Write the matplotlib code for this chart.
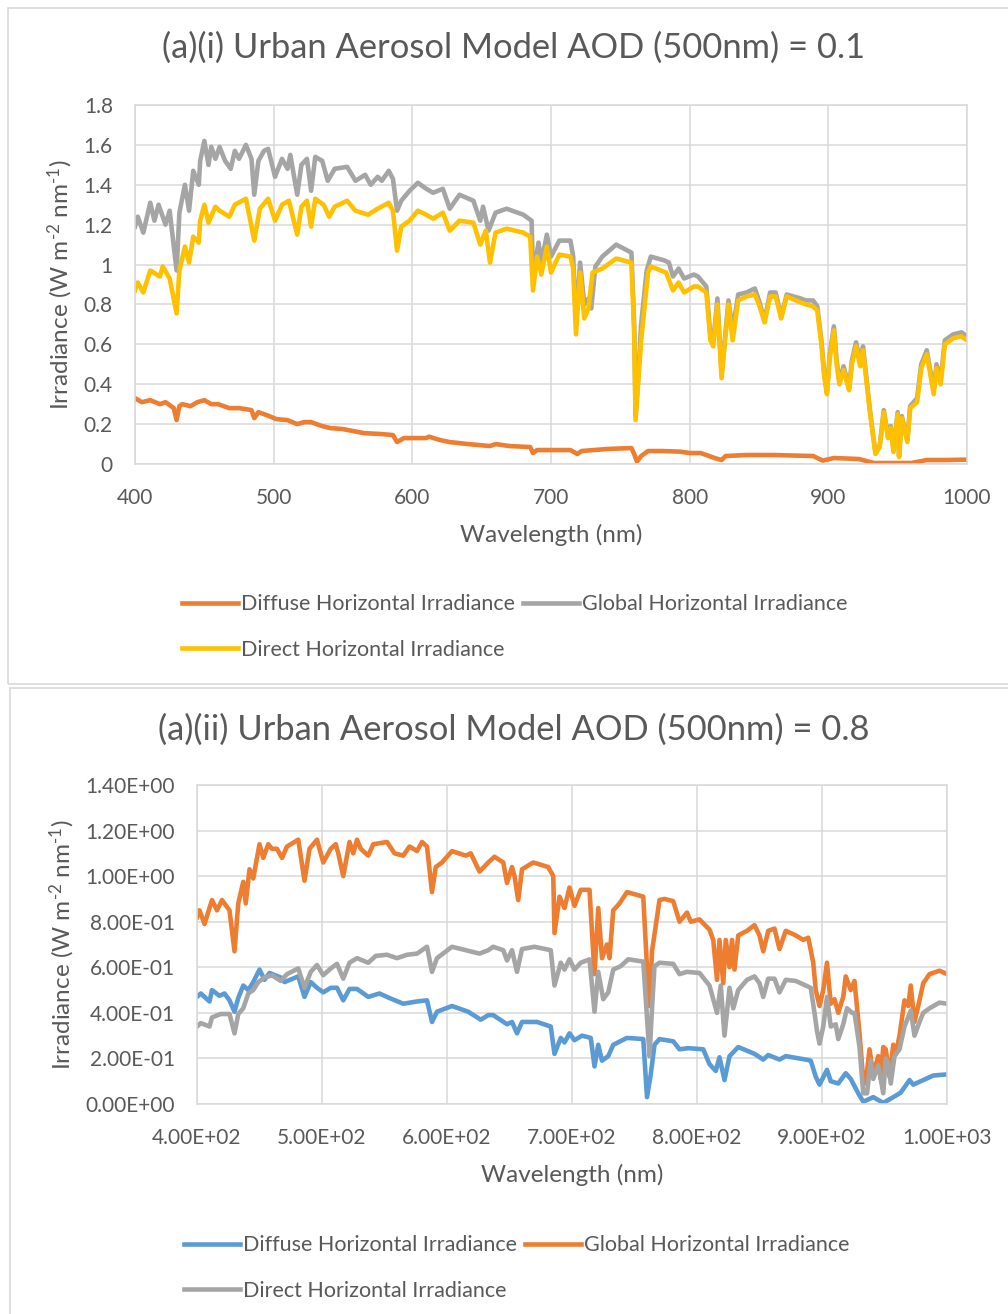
import numpy as np
import matplotlib
matplotlib.use("Agg")
import matplotlib.pyplot as plt
from matplotlib.patches import Rectangle
from matplotlib.ticker import FuncFormatter, MultipleLocator

plt.rcParams['font.family'] = ['Lato', 'DejaVu Sans']
plt.rcParams['mathtext.fontset'] = 'custom'
plt.rcParams['mathtext.rm'] = 'Lato'
plt.rcParams['mathtext.it'] = 'Lato'

TXT = '#595959'
GRID = '#D9D9D9'
ORANGE = '#ED7D31'
GRAY = '#A5A5A5'
YELLOW = '#FFC000'
BLUE = '#5B9BD5'

# ---- (a)(i) AOD 0.1 ----
wl1_global = [400, 402, 406, 411, 414, 417, 422, 425, 430, 432, 436, 439, 442, 446, 447, 450, 453, 455, 458, 461,
              465, 469, 472, 475, 480, 484, 486, 489, 493, 496, 501, 506, 510, 512, 517, 520, 524, 527, 530, 535,
              539, 544, 553, 559, 566, 570, 575, 578, 583, 586, 589, 592, 598, 604, 610, 615, 622, 627, 634, 644,
              649, 651, 655, 660, 668, 680, 686, 687, 691, 693, 697, 700, 706, 714, 716, 718, 721, 724, 727, 729,
              732, 737, 747, 758, 760, 761, 763, 765, 769, 772, 782, 785, 788, 792, 796, 803, 806, 812, 815, 817,
              820, 823, 828, 831, 835, 841, 847, 850, 854, 858, 862, 866, 870, 880, 884, 889, 892, 895, 897, 899,
              901, 904, 906, 908, 911, 915, 917, 920, 923, 925, 930, 934, 937, 940, 943, 945, 947, 950, 951, 953,
              957, 959, 964, 967, 971, 976, 978, 981, 984, 990, 996, 1000]
global1 = [1.19, 1.24, 1.16, 1.31, 1.22, 1.30, 1.20, 1.27, 0.97, 1.26, 1.40, 1.27, 1.47, 1.40, 1.52, 1.62, 1.50, 1.59, 1.53, 1.59,
           1.52, 1.48, 1.57, 1.53, 1.60, 1.53, 1.35, 1.52, 1.57, 1.58, 1.44, 1.53, 1.48, 1.55, 1.35, 1.50, 1.53, 1.37, 1.54, 1.52,
           1.42, 1.48, 1.49, 1.42, 1.45, 1.40, 1.44, 1.42, 1.47, 1.43, 1.27, 1.32, 1.37, 1.41, 1.38, 1.36, 1.38, 1.28, 1.35, 1.32,
           1.22, 1.29, 1.17, 1.26, 1.28, 1.25, 1.22, 0.94, 1.11, 1.01, 1.15, 1.04, 1.12, 1.12, 1.04, 0.71, 1.01, 0.80, 0.83, 0.78,
           0.99, 1.04, 1.10, 1.06, 0.70, 0.24, 0.45, 0.70, 0.97, 1.04, 1.02, 1.01, 0.94, 0.98, 0.93, 0.95, 0.94, 0.89, 0.64, 0.61,
           0.83, 0.45, 0.82, 0.67, 0.85, 0.86, 0.88, 0.82, 0.72, 0.86, 0.86, 0.74, 0.85, 0.83, 0.82, 0.82, 0.79, 0.62, 0.46, 0.36,
           0.55, 0.69, 0.52, 0.41, 0.49, 0.38, 0.52, 0.61, 0.51, 0.59, 0.27, 0.055, 0.09, 0.27, 0.14, 0.19, 0.07, 0.26, 0.04, 0.24,
           0.12, 0.29, 0.33, 0.50, 0.57, 0.37, 0.50, 0.42, 0.62, 0.65, 0.66, 0.64]

wl1_direct = [400, 402, 406, 411, 418, 420, 425, 430, 432, 436, 439, 442, 446, 447, 450, 453, 458, 461, 468, 472,
              480, 486, 490, 496, 501, 506, 511, 517, 520, 524, 527, 530, 536, 540, 544, 553, 559, 568, 575, 583,
              586, 589, 592, 598, 604, 610, 615, 622, 627, 634, 644, 649, 653, 656, 660, 668, 680, 685, 687, 690,
              693, 697, 700, 706, 714, 716, 718, 721, 724, 727, 730, 737, 747, 758, 760, 761, 763, 765, 770, 772,
              783, 788, 792, 796, 803, 806, 812, 815, 817, 820, 823, 828, 831, 835, 841, 847, 850, 854, 858, 862,
              866, 870, 880, 884, 889, 892, 895, 897, 899, 901, 904, 906, 908, 911, 915, 917, 920, 923, 925, 930,
              934, 937, 940, 943, 945, 947, 950, 951, 953, 957, 959, 964, 967, 971, 976, 978, 981, 984, 990, 996, 1000]
direct1 = [0.87, 0.91, 0.86, 0.97, 0.94, 0.99, 0.93, 0.755, 0.97, 1.09, 1.01, 1.14, 1.11, 1.22, 1.30, 1.21, 1.29, 1.27, 1.24, 1.30,
           1.33, 1.12, 1.28, 1.33, 1.22, 1.30, 1.32, 1.15, 1.29, 1.32, 1.19, 1.33, 1.30, 1.24, 1.29, 1.32, 1.27, 1.25, 1.28, 1.31,
           1.27, 1.07, 1.19, 1.22, 1.27, 1.25, 1.23, 1.26, 1.17, 1.22, 1.21, 1.10, 1.17, 1.01, 1.16, 1.18, 1.16, 1.14, 0.87, 1.04,
           0.95, 1.09, 0.96, 1.05, 1.04, 0.98, 0.65, 0.96, 0.73, 0.78, 0.96, 0.98, 1.03, 1.01, 0.65, 0.22, 0.42, 0.62, 0.96, 0.99,
           0.96, 0.87, 0.91, 0.86, 0.89, 0.89, 0.86, 0.62, 0.59, 0.80, 0.43, 0.80, 0.62, 0.82, 0.84, 0.85, 0.80, 0.71, 0.84, 0.84,
           0.73, 0.84, 0.81, 0.80, 0.79, 0.77, 0.60, 0.44, 0.35, 0.53, 0.67, 0.50, 0.40, 0.47, 0.37, 0.50, 0.59, 0.49, 0.57, 0.26,
           0.05, 0.085, 0.26, 0.13, 0.18, 0.06, 0.25, 0.035, 0.23, 0.11, 0.28, 0.31, 0.48, 0.55, 0.35, 0.48, 0.40, 0.60, 0.63, 0.64, 0.62]

wl1_diffuse = [400, 405, 411, 418, 422, 428, 430, 432, 434, 440, 445, 450, 455, 460, 468, 475, 480, 484, 486, 489,
               495, 502, 510, 517, 522, 527, 535, 541, 550, 565, 578, 586, 589, 594, 600, 610, 612, 620, 627, 640,
               656, 660, 670, 685, 687, 690, 700, 714, 719, 722, 740, 758, 760, 762, 765, 770, 780, 793, 800, 808,
               818, 823, 826, 841, 860, 889, 896, 904, 922, 929, 933, 960, 971, 985, 1000]
diffuse1 = [0.33, 0.31, 0.32, 0.30, 0.31, 0.28, 0.22, 0.29, 0.30, 0.29, 0.31, 0.32, 0.30, 0.30, 0.28, 0.28, 0.275, 0.27, 0.23, 0.26,
            0.245, 0.225, 0.22, 0.20, 0.21, 0.21, 0.19, 0.18, 0.175, 0.155, 0.15, 0.145, 0.11, 0.13, 0.13, 0.13, 0.137, 0.12, 0.11, 0.10,
            0.09, 0.10, 0.09, 0.085, 0.055, 0.07, 0.07, 0.07, 0.05, 0.065, 0.075, 0.08, 0.05, 0.012, 0.04, 0.065, 0.065, 0.062, 0.055, 0.055,
            0.03, 0.02, 0.04, 0.045, 0.045, 0.04, 0.017, 0.03, 0.025, 0.012, 0.005, 0.005, 0.02, 0.02, 0.022]

# ---- (a)(ii) AOD 0.8 ----
wl2_global = [400, 402, 406, 412, 416, 420, 426, 430, 433, 437, 439, 442, 445, 450, 453, 457, 460, 464, 468, 472,
              481, 486, 490, 496, 501, 507, 511, 513, 517, 522, 525, 528, 531, 537, 541, 552, 558, 565, 570, 576,
              580, 584, 588, 591, 596, 604, 615, 619, 626, 633, 638, 645, 648, 652, 654, 657, 660, 669, 681, 685,
              686, 690, 694, 698, 702, 707, 714, 718, 721, 724, 728, 730, 733, 738, 744, 757, 760, 762, 764, 770,
              774, 781, 786, 792, 795, 802, 810, 813, 816, 818, 821, 823, 826, 828, 830, 833, 840, 846, 850, 853,
              857, 862, 866, 871, 879, 885, 889, 893, 895, 898, 901, 904, 907, 910, 913, 917, 919, 923, 926, 930,
              933, 935, 938, 941, 945, 947, 949, 951, 954, 957, 959, 962, 966, 969, 971, 974, 978, 981, 986, 994, 1000]
global2 = [0.82, 0.85, 0.79, 0.895, 0.85, 0.895, 0.85, 0.67, 0.88, 0.975, 0.88, 1.03, 0.99, 1.14, 1.08, 1.14, 1.12, 1.12, 1.08, 1.13,
           1.16, 0.98, 1.12, 1.16, 1.06, 1.12, 1.14, 1.10, 1.00, 1.15, 1.10, 1.16, 1.12, 1.09, 1.14, 1.15, 1.10, 1.09, 1.13, 1.11,
           1.15, 1.13, 0.93, 1.04, 1.06, 1.11, 1.09, 1.10, 1.02, 1.06, 1.085, 1.06, 0.97, 1.04, 1.00, 0.895, 1.03, 1.06, 1.04, 1.00,
           0.75, 0.91, 0.86, 0.95, 0.87, 0.94, 0.94, 0.57, 0.86, 0.64, 0.70, 0.64, 0.85, 0.88, 0.93, 0.91, 0.60, 0.43, 0.67, 0.895,
           0.90, 0.89, 0.80, 0.84, 0.80, 0.81, 0.765, 0.72, 0.545, 0.72, 0.53, 0.72, 0.60, 0.72, 0.59, 0.74, 0.76, 0.785, 0.74, 0.67,
           0.76, 0.77, 0.68, 0.76, 0.74, 0.72, 0.73, 0.62, 0.50, 0.43, 0.50, 0.62, 0.44, 0.46, 0.40, 0.47, 0.56, 0.50, 0.54, 0.31,
           0.105, 0.09, 0.24, 0.13, 0.21, 0.11, 0.25, 0.24, 0.12, 0.26, 0.22, 0.30, 0.455, 0.43, 0.52, 0.36, 0.455, 0.53, 0.57, 0.585, 0.57]

wl2_direct = [400, 403, 410, 412, 419, 426, 430, 433, 437, 441, 445, 449, 454, 460, 467, 472, 481, 486, 491, 496,
              501, 507, 512, 517, 522, 528, 537, 543, 552, 560, 568, 576, 584, 588, 592, 604, 615, 626, 633, 637,
              645, 648, 652, 656, 660, 670, 683, 686, 691, 694, 698, 702, 707, 714, 718, 721, 725, 729, 733, 739,
              745, 757, 760, 762, 764, 766, 770, 781, 786, 792, 802, 810, 816, 819, 822, 826, 829, 833, 840, 846,
              850, 853, 857, 862, 866, 871, 879, 887, 891, 894, 896, 898, 901, 904, 907, 911, 913, 917, 920, 924,
              926, 930, 933, 936, 939, 941, 945, 949, 951, 953, 955, 958, 962, 966, 971, 974, 978, 981, 986, 994, 1000]
direct2 = [0.34, 0.355, 0.34, 0.38, 0.395, 0.395, 0.31, 0.395, 0.42, 0.485, 0.50, 0.535, 0.555, 0.565, 0.54, 0.57, 0.595, 0.51, 0.58, 0.61,
           0.565, 0.595, 0.615, 0.55, 0.62, 0.64, 0.62, 0.65, 0.655, 0.64, 0.655, 0.66, 0.69, 0.58, 0.64, 0.69, 0.675, 0.66, 0.675, 0.69,
           0.675, 0.63, 0.675, 0.58, 0.68, 0.69, 0.675, 0.52, 0.62, 0.59, 0.635, 0.59, 0.62, 0.635, 0.405, 0.58, 0.46, 0.49, 0.59, 0.605,
           0.635, 0.625, 0.38, 0.21, 0.42, 0.605, 0.62, 0.615, 0.57, 0.58, 0.575, 0.52, 0.40, 0.52, 0.30, 0.51, 0.42, 0.50, 0.545, 0.56,
           0.53, 0.47, 0.55, 0.55, 0.49, 0.545, 0.54, 0.52, 0.51, 0.40, 0.32, 0.265, 0.34, 0.47, 0.34, 0.35, 0.285, 0.35, 0.42, 0.40,
           0.40, 0.25, 0.047, 0.047, 0.19, 0.11, 0.17, 0.047, 0.20, 0.18, 0.09, 0.21, 0.24, 0.34, 0.41, 0.30, 0.36, 0.40, 0.42, 0.445, 0.44]

wl2_diffuse = [400, 403, 410, 412, 418, 422, 426, 430, 433, 437, 441, 445, 450, 454, 458, 467, 470, 481, 486, 491,
               496, 501, 507, 512, 517, 522, 528, 537, 546, 554, 565, 576, 584, 588, 592, 604, 617, 627, 633, 637,
               648, 652, 656, 660, 672, 683, 686, 691, 694, 698, 702, 708, 715, 718, 721, 724, 729, 733, 744, 757,
               760, 763, 766, 770, 781, 786, 793, 805, 810, 815, 818, 822, 826, 833, 846, 853, 857, 866, 871, 887,
               891, 895, 898, 904, 907, 913, 919, 923, 929, 933, 941, 949, 957, 963, 970, 973, 981, 989, 1000]
diffuse2 = [0.47, 0.485, 0.45, 0.50, 0.475, 0.485, 0.455, 0.405, 0.465, 0.52, 0.50, 0.535, 0.59, 0.545, 0.575, 0.555, 0.535, 0.56, 0.47, 0.535,
            0.51, 0.49, 0.51, 0.51, 0.455, 0.505, 0.505, 0.47, 0.485, 0.465, 0.44, 0.45, 0.455, 0.36, 0.405, 0.43, 0.405, 0.37, 0.39, 0.39,
            0.35, 0.36, 0.31, 0.36, 0.36, 0.34, 0.22, 0.29, 0.27, 0.31, 0.28, 0.30, 0.29, 0.165, 0.26, 0.19, 0.21, 0.26, 0.29, 0.285,
            0.03, 0.13, 0.26, 0.285, 0.275, 0.24, 0.245, 0.24, 0.175, 0.145, 0.205, 0.105, 0.21, 0.25, 0.22, 0.195, 0.215, 0.195, 0.21, 0.195,
            0.19, 0.12, 0.085, 0.15, 0.10, 0.09, 0.135, 0.11, 0.047, 0.01, 0.03, 0.005, 0.03, 0.05, 0.105, 0.085, 0.105, 0.125, 0.13]

LABELS = ['Diffuse Horizontal Irradiance', 'Global Horizontal Irradiance', 'Direct Horizontal Irradiance']
YLABEL = r'Irradiance (W m$^{\text{-2}}$ nm$^{\text{-1}}$)'

W, H = 1008, 1314
fig = plt.figure(figsize=(W / 100, H / 100), dpi=100)

def fx(px):
    return px / W

def fy(py):
    return 1 - py / H

# panel frames
fig.patches.append(Rectangle((fx(8), fy(684)), fx(1010) - fx(8), fy(8) - fy(684),
                             transform=fig.transFigure, fill=False, edgecolor=GRID, lw=1.2))
fig.patches.append(Rectangle((fx(10), fy(1320)), fx(1010) - fx(10), fy(688) - fy(1320),
                             transform=fig.transFigure, fill=False, edgecolor=GRID, lw=1.2))


def style_axes(ax, ymax, ystep, fmt_x, fmt_y):
    ax.set_xlim(400, 1000)
    ax.set_ylim(0, ymax)
    ax.xaxis.set_major_locator(MultipleLocator(100))
    ax.yaxis.set_major_locator(MultipleLocator(ystep))
    ax.xaxis.set_major_formatter(FuncFormatter(fmt_x))
    ax.yaxis.set_major_formatter(FuncFormatter(fmt_y))
    ax.grid(True, color=GRID, lw=1.1)
    ax.set_axisbelow(True)
    for s in ax.spines.values():
        s.set_color(GRID)
        s.set_linewidth(1.1)
    ax.tick_params(length=0, labelsize=15, colors=TXT)
    ax.tick_params(axis='y', pad=16)
    ax.tick_params(axis='x', pad=17)


LW = 3.3
LEG = dict(ncol=2, loc='center', frameon=False, fontsize=15.5, labelcolor=TXT,
           handlelength=2.6, handletextpad=0.15, columnspacing=0.35, labelspacing=1.2)

# top chart
ax1 = fig.add_axes([fx(135), fy(464), fx(967) - fx(135), fy(105) - fy(464)])
l_dif1, = ax1.plot(wl1_diffuse, diffuse1, color=ORANGE, lw=LW, solid_joinstyle='round')
l_glo1, = ax1.plot(wl1_global, global1, color=GRAY, lw=LW, solid_joinstyle='round')
l_dir1, = ax1.plot(wl1_direct, direct1, color=YELLOW, lw=LW, solid_joinstyle='round')
style_axes(ax1, 1.8, 0.2, lambda v, p: f'{v:g}', lambda v, p: f'{round(v, 1):g}')

fig.text(fx(514), fy(48), '(a)(i) Urban Aerosol Model AOD (500nm) = 0.1', ha='center', va='center',
         fontsize=24.8, color=TXT)
fig.text(fx(551), fy(535), 'Wavelength (nm)', ha='center', va='center', fontsize=17.5, color=TXT)
fig.text(fx(60), fy(285), YLABEL, ha='center', va='center', rotation=90, fontsize=17.5, color=TXT)
fig.legend([l_dif1, l_dir1, l_glo1], [LABELS[0], LABELS[2], LABELS[1]],
           bbox_to_anchor=(fx(515), fy(627)), **LEG)

# bottom chart
ax2 = fig.add_axes([fx(197), fy(1104), fx(947) - fx(197), fy(785) - fy(1104)])
l_dif2, = ax2.plot(wl2_diffuse, diffuse2, color=BLUE, lw=LW, solid_joinstyle='round')
l_glo2, = ax2.plot(wl2_global, global2, color=ORANGE, lw=LW, solid_joinstyle='round')
l_dir2, = ax2.plot(wl2_direct, direct2, color=GRAY, lw=LW, solid_joinstyle='round')
style_axes(ax2, 1.4, 0.2, lambda v, p: f'{v:.2E}', lambda v, p: f'{abs(v):.2E}')

fig.text(fx(514), fy(730), '(a)(ii) Urban Aerosol Model AOD (500nm) = 0.8', ha='center', va='center',
         fontsize=24.8, color=TXT)
fig.text(fx(572), fy(1175), 'Wavelength (nm)', ha='center', va='center', fontsize=17.5, color=TXT)
fig.text(fx(62), fy(945), YLABEL, ha='center', va='center', rotation=90, fontsize=17.5, color=TXT)
fig.legend([l_dif2, l_dir2, l_glo2], [LABELS[0], LABELS[2], LABELS[1]],
           bbox_to_anchor=(fx(517), fy(1268)), **LEG)

fig.savefig('out.png', dpi=100, facecolor='white')
